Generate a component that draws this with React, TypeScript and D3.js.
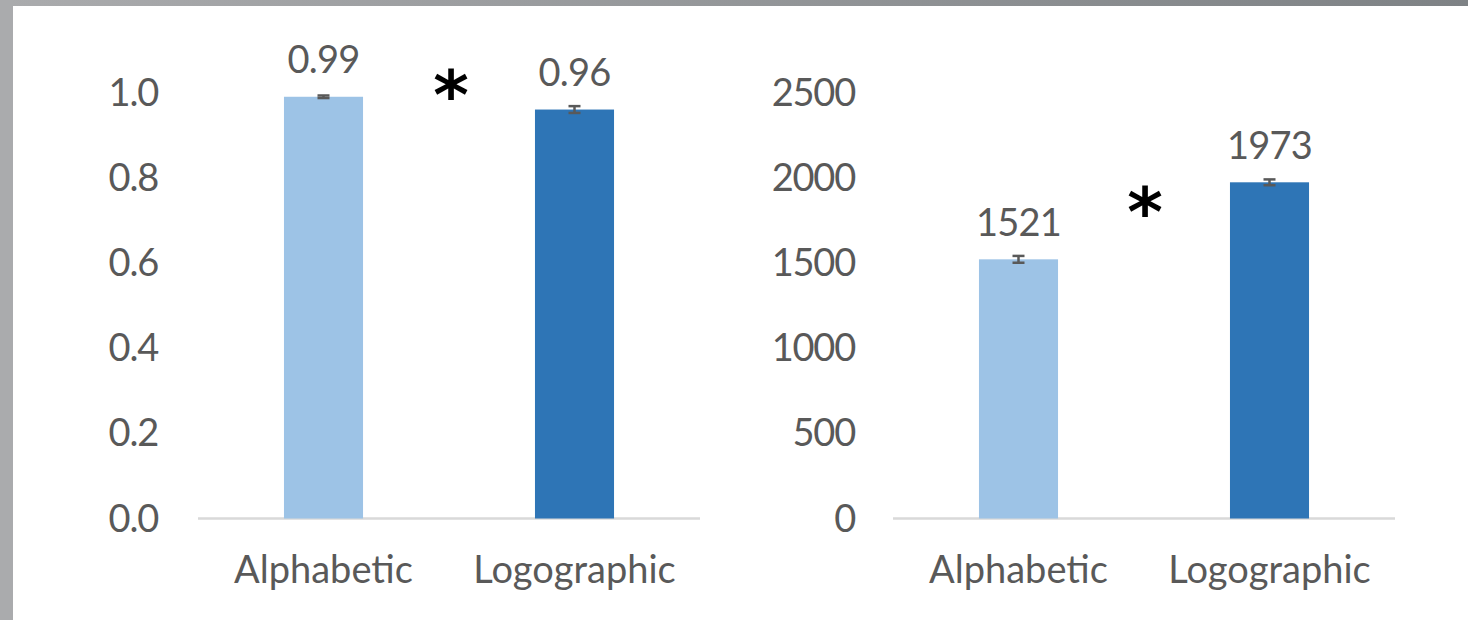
import React from "react";
import * as d3 from "d3";

// Two side-by-side bar panels: accuracy and reaction time by script type.
const categories = ["Alphabetic", "Logographic"];

const accuracyValues = [0.99, 0.96];
const accuracyErrors = [0.003, 0.008];
const accuracyTicks = [0, 0.2, 0.4, 0.6, 0.8, 1.0];

const rtValues = [1521, 1973];
const rtErrors = [20, 17];
const rtTicks = [0, 500, 1000, 1500, 2000, 2500];

const barColors = ["#9DC3E6", "#2E75B6"];
const textColor = "#595959";
const FONT = "Lato, 'Open Sans', sans-serif";
const FS = 38;

const W = 1468;
const H = 620;

type PanelProps = {
  x0: number;
  x1: number;
  labelRight: number;
  domainMax: number;
  ticks: number[];
  tickFormat: (v: number) => string;
  values: number[];
  errors: number[];
  valueFormat: (v: number) => string;
  star: { x: number; y: number };
};

const yTop = 92.5;
const yBase = 518.5;

function Panel(p: PanelProps) {
  const x = d3
    .scaleBand<string>()
    .domain(categories)
    .range([p.x0, p.x1])
    .paddingInner(0.685)
    .paddingOuter(0.685 / 2);
  const y = d3.scaleLinear().domain([0, p.domainMax]).range([yBase, yTop]);
  const bw = x.bandwidth();
  return (
    <g>
      {p.ticks.map((t) => (
        <text
          key={t}
          x={p.labelRight}
          y={y(t) + 13}
          textAnchor="end"
          fontFamily={FONT}
          fontSize={FS}
          letterSpacing={-1.2}
          fill={textColor}
        >
          {p.tickFormat(t)}
        </text>
      ))}
      <line x1={p.x0} x2={p.x1} y1={yBase} y2={yBase} stroke="#D9D9D9" strokeWidth={2.5} />
      {categories.map((c, i) => {
        const bx = x(c) as number;
        const cx = bx + bw / 2;
        const top = y(p.values[i]);
        const eTop = y(p.values[i] + p.errors[i]);
        const eBot = y(p.values[i] - p.errors[i]);
        return (
          <g key={c}>
            <rect x={bx} y={top} width={bw} height={yBase - top} fill={barColors[i]} />
            <g stroke="#595959" strokeWidth={2.5}>
              <line x1={cx} x2={cx} y1={eTop} y2={eBot} />
              <line x1={cx - 6} x2={cx + 6} y1={eTop} y2={eTop} />
              <line x1={cx - 6} x2={cx + 6} y1={eBot} y2={eBot} />
            </g>
            <text
              x={cx}
              y={top - 23.5}
              textAnchor="middle"
              fontFamily={FONT}
              fontSize={FS}
              letterSpacing={-0.8}
              fill={textColor}
            >
              {p.valueFormat(p.values[i])}
            </text>
            <text
              x={cx}
              y={583}
              textAnchor="middle"
              fontFamily={FONT}
              fontSize={FS}
              fill={textColor}
            >
              {c}
            </text>
          </g>
        );
      })}
      <text
        x={p.star.x}
        y={p.star.y}
        textAnchor="middle"
        fontFamily="'DejaVu Sans', sans-serif"
        fontWeight="bold"
        fontSize={68}
        fill="#000"
      >
        *
      </text>
    </g>
  );
}

export default function App() {
  return (
    <svg
      width={W}
      height={H}
      style={{ position: "absolute", left: 0, top: 0, display: "block" }}
    >
      <defs>
        <linearGradient id="topbar" x1="0" x2="1" y1="0" y2="0">
          <stop offset="0" stopColor="#AAABAD" />
          <stop offset="1" stopColor="#7E8285" />
        </linearGradient>
      </defs>
      <rect x={0} y={0} width={W} height={H} fill="#FFFFFF" />
      <rect x={0} y={0} width={W} height={6} fill="url(#topbar)" />
      <rect x={0} y={0} width={13} height={H} fill="#AAABAD" />
      <Panel
        x0={198}
        x1={700}
        labelRight={158}
        domainMax={1}
        ticks={accuracyTicks}
        tickFormat={d3.format(".1f")}
        values={accuracyValues}
        errors={accuracyErrors}
        valueFormat={d3.format(".2f")}
        star={{ x: 451, y: 119 }}
      />
      <Panel
        x0={893}
        x1={1395}
        labelRight={855}
        domainMax={2500}
        ticks={rtTicks}
        tickFormat={d3.format("d")}
        values={rtValues}
        errors={rtErrors}
        valueFormat={d3.format("d")}
        star={{ x: 1145, y: 236 }}
      />
    </svg>
  );
}
